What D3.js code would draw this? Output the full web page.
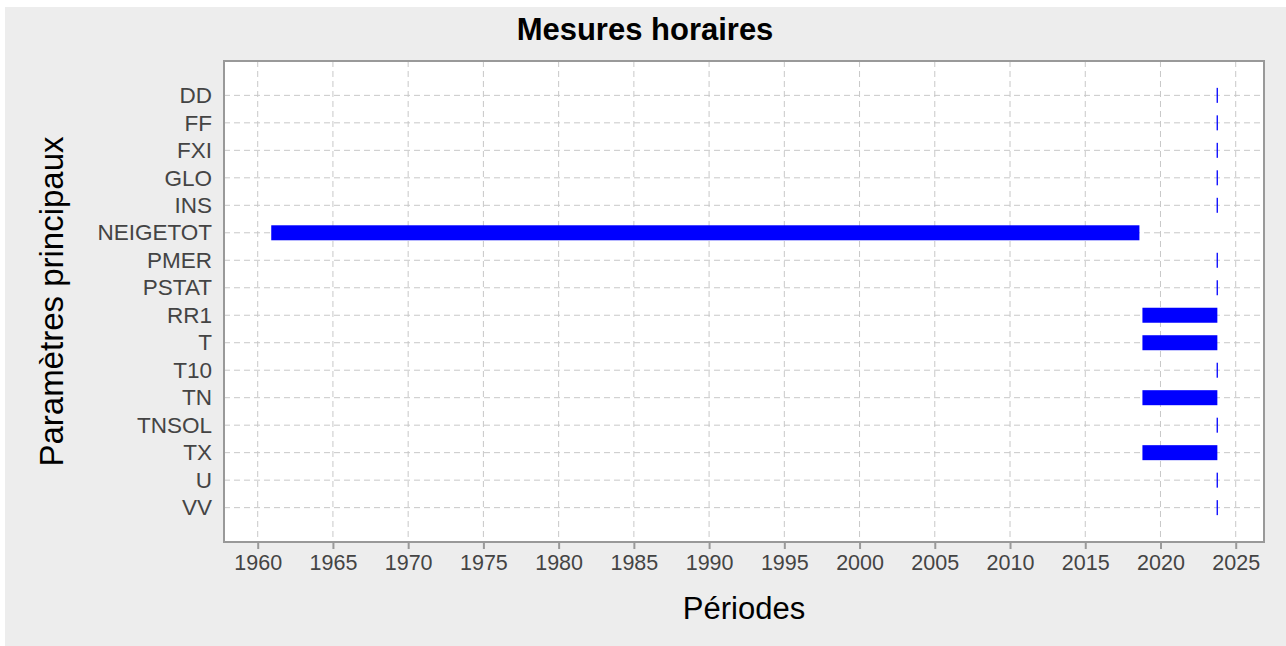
<!DOCTYPE html>
<html>
<head>
<meta charset="utf-8">
<script src="https://cdn.jsdelivr.net/npm/d3@7"></script>
<style>
  body { margin: 0; background: #fff; }
  svg { display: block; font-family: "Liberation Sans", Arial, sans-serif; }
</style>
</head>
<body>
<div id="chart"></div>
<script>
// parameters, top to bottom
var params = ["DD", "FF", "FXI", "GLO", "INS", "NEIGETOT", "PMER", "PSTAT",
              "RR1", "T", "T10", "TN", "TNSOL", "TX", "U", "VV"];
// start / end of each measuring period (decimal years)
var periodStart = [2023.73, 2023.73, 2023.73, 2023.73, 2023.73, 1960.9, 2023.73, 2023.73,
                   2018.8, 2018.8, 2023.73, 2018.8, 2023.73, 2018.8, 2023.73, 2023.73];
var periodEnd = [2023.73, 2023.73, 2023.73, 2023.73, 2023.73, 2018.6, 2023.73, 2023.73,
                 2023.78, 2023.78, 2023.73, 2023.78, 2023.73, 2023.78, 2023.73, 2023.73];
var yearTicks = [1960, 1965, 1970, 1975, 1980, 1985, 1990, 1995, 2000, 2005,
                 2010, 2015, 2020, 2025];

var W = 1286, H = 646;
var margin = { top: 61, right: 22, bottom: 104, left: 224 };
var width = W - margin.left - margin.right,
    height = H - margin.top - margin.bottom;

var data = params.map(function (p, i) {
  return { name: p, start: periodStart[i], end: periodEnd[i] };
});

var svg = d3.select("#chart").append("svg")
  .attr("width", W)
  .attr("height", H);

// grey panel
svg.append("rect")
  .attr("x", 5).attr("y", 7)
  .attr("width", W - 5).attr("height", H - 7)
  .attr("fill", "#ededed");

var g = svg.append("g")
  .attr("transform", "translate(" + margin.left + "," + margin.top + ")");

g.append("rect")
  .attr("width", width).attr("height", height)
  .attr("fill", "#fff");

var x = d3.scaleLinear().domain([1957.76, 2026.88]).range([0, width]);
var y = d3.scalePoint().domain(params).range([0, height]).padding(1.25);

// grid
g.append("g").selectAll("line").data(yearTicks).enter().append("line")
  .attr("x1", function (d) { return x(d); })
  .attr("x2", function (d) { return x(d); })
  .attr("y1", 0).attr("y2", height)
  .attr("stroke", "#c8c8c8")
  .attr("stroke-dasharray", "6,4");

g.append("g").selectAll("line").data(params).enter().append("line")
  .attr("x1", 0).attr("x2", width)
  .attr("y1", function (d) { return y(d); })
  .attr("y2", function (d) { return y(d); })
  .attr("stroke", "#c8c8c8")
  .attr("stroke-dasharray", "6,4");

// bars
var barH = 15;
g.selectAll(".bar").data(data).enter().append("rect")
  .attr("class", "bar")
  .attr("x", function (d) { return x(d.start); })
  .attr("width", function (d) { return Math.max(1.3, x(d.end) - x(d.start)); })
  .attr("y", function (d) { return y(d.name) - barH / 2; })
  .attr("height", barH)
  .attr("fill", "#0000ff");

// frame
g.append("rect")
  .attr("width", width).attr("height", height)
  .attr("fill", "none")
  .attr("stroke", "#999")
  .attr("stroke-width", 2);

// x axis
var xAxis = g.append("g")
  .attr("transform", "translate(0," + height + ")")
  .call(d3.axisBottom(x).tickValues(yearTicks).tickFormat(d3.format("d"))
    .tickSizeInner(7).tickSizeOuter(0).tickPadding(6));
xAxis.select(".domain").remove();
xAxis.selectAll(".tick line").attr("stroke", "#999").attr("stroke-width", 2);
xAxis.selectAll(".tick text")
  .attr("fill", "#444")
  .style("font-size", "21.5px")
  .style("font-family", "Liberation Sans, Arial, sans-serif");

// y axis
var yAxis = g.append("g")
  .call(d3.axisLeft(y).tickSize(0).tickPadding(12));
yAxis.select(".domain").remove();
yAxis.selectAll(".tick text")
  .attr("fill", "#444")
  .style("font-size", "22.5px")
  .style("font-family", "Liberation Sans, Arial, sans-serif");

// titles
svg.append("text")
  .attr("x", 645).attr("y", 40)
  .attr("text-anchor", "middle")
  .style("font-size", "31px")
  .style("font-weight", "bold")
  .text("Mesures horaires");

svg.append("text")
  .attr("x", margin.left + width / 2).attr("y", 619)
  .attr("text-anchor", "middle")
  .style("font-size", "31px")
  .text("Périodes");

svg.append("text")
  .attr("transform", "translate(63," + (margin.top + height / 2) + ")rotate(-90)")
  .attr("text-anchor", "middle")
  .style("font-size", "33px")
  .text("Paramètres principaux");
</script>
</body>
</html>
